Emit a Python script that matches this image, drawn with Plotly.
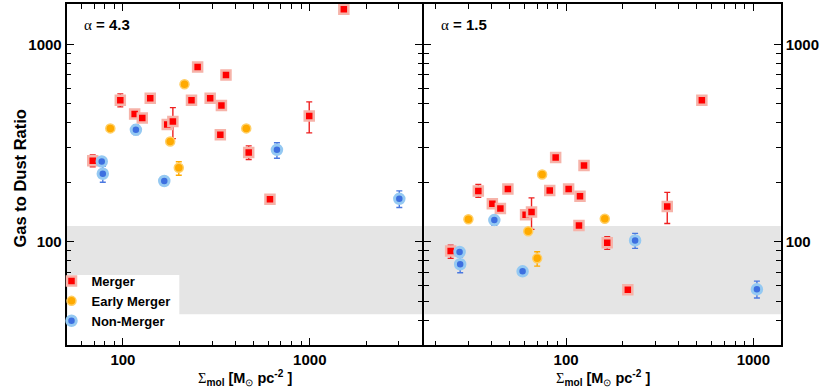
import math
import plotly.graph_objects as go

W, H = 830, 388

# ---------------- data ----------------
categories = ["Merger", "Early Merger", "Non-Merger"]

# alpha = 4.3 panel
merger_x_43 = [68.9, 96.8, 115.5, 126.9, 140, 172.6, 185, 232.7, 251, 293, 336.5, 356, 332, 471, 993, 1521, 612]
merger_y_43 = [257, 521, 444, 424, 533, 392, 406, 521, 768, 533, 490, 699, 348, 283, 434, 1503, 164]
merger_hi_43 = [275, 561, None, 443, None, None, 478, 543, None, 555, None, None, None, 306, 511, None, None]
merger_lo_43 = [240, 482, None, 406, None, None, 333, 500, None, 512, None, None, None, 261, 356, None, None]

early_x_43 = [85.6, 213.5, 179, 199, 457]
early_y_43 = [375, 628, 322, 237, 375]
early_hi_43 = [None, None, None, 254, None]
early_lo_43 = [None, None, None, 217, None]

non_x_43 = [77, 78, 117.3, 166.4, 667, 3013]
non_y_43 = [255, 221, 369, 203, 292, 165]
non_hi_43 = [None, 241, 390, None, 317, 181]
non_lo_43 = [None, 200, 349, None, 265, 149]

# alpha = 1.5 panel
merger_x_15 = [24.2, 34, 40.4, 44.6, 48.9, 60.8, 65.4, 81.8, 88, 103.2, 118.7, 124.7, 117.2, 165.9, 347, 531, 213.7]
merger_y_15 = [89.7, 181, 155.7, 147.5, 185, 137, 141.3, 182, 267, 185, 170, 243.4, 121, 98.8, 151, 521, 57.2]
merger_hi_15 = [96.2, 195, None, 154, None, None, 166.8, 190, None, 193, None, None, None, 106, 177.8, None, None]
merger_lo_15 = [82.4, 168, None, 141.5, None, None, 115.5, 174.5, None, 178.5, None, None, None, 91.5, 123.8, None, None]

early_x_15 = [30.1, 74.5, 62.8, 70.1, 161]
early_y_15 = [130, 219, 113, 82.4, 130.7]
early_hi_15 = [None, None, None, 89.0, None]
early_lo_15 = [None, None, None, 75.3, None]

non_x_15 = [27, 27.2, 41.4, 58.6, 233.7, 1045]
non_y_15 = [88.7, 76.9, 128.8, 70.8, 101.6, 57.4]
non_hi_15 = [None, 84, 134.8, None, 110.3, 63.2]
non_lo_15 = [None, 69.7, 121.1, None, 92.6, 51.9]

band_range = [43, 120]          # grey reference band
panel_labels = ["α = 4.3", "α = 1.5"]
x_tick_labels = [100, 1000]
y_tick_labels = [100, 1000]

# ---------------- styling ----------------
FONT = "Liberation Sans, Arial, Helvetica, sans-serif"
styles = {
    "Merger": dict(symbol="square", size=9, color="#ff0000", line="#f6b3a9", lw=2.5, err="#ee2020"),
    "Early Merger": dict(symbol="circle", size=9, color="#ffaa00", line="#ffcf66", lw=1.5, err="#ffaa00"),
    "Non-Merger": dict(symbol="circle", size=9.5, color="#3d6fe0", line="#95c9f2", lw=3, err="#4a78e0"),
}


def px2fx(px):
    return px / W


def py2fy(py):
    return 1 - py / H


def deltas(y, hi, lo):
    plus = [(h - v) if h is not None else 0 for v, h in zip(y, hi)]
    minus = [(v - l) if l is not None else 0 for v, l in zip(y, lo)]
    return plus, minus


fig = go.Figure()

panels = [
    ("x", "y", [(merger_x_43, merger_y_43, merger_hi_43, merger_lo_43),
                (early_x_43, early_y_43, early_hi_43, early_lo_43),
                (non_x_43, non_y_43, non_hi_43, non_lo_43)], True),
    ("x2", "y2", [(merger_x_15, merger_y_15, merger_hi_15, merger_lo_15),
                  (early_x_15, early_y_15, early_hi_15, early_lo_15),
                  (non_x_15, non_y_15, non_hi_15, non_lo_15)], False),
]

for xa, ya, sets, show in panels:
    for cat, (xs, ys, hi, lo) in zip(categories, sets):
        st = styles[cat]
        plus, minus = deltas(ys, hi, lo)
        fig.add_trace(go.Scatter(
            x=xs, y=ys, mode="markers", name=cat, xaxis=xa, yaxis=ya,
            showlegend=show, legendgroup=cat,
            marker=dict(symbol=st["symbol"], size=st["size"], color=st["color"],
                        line=dict(color=st["line"], width=st["lw"])),
            error_y=dict(type="data", symmetric=False, array=plus, arrayminus=minus,
                         color=st["err"], thickness=1.4, width=3),
        ))

x_minor_43 = [50, 60, 70, 80, 90, 200, 300, 400, 500, 600, 700, 800, 900, 2000, 3000, 4000]
x_minor_15 = [20, 30, 40, 50, 60, 70, 80, 90, 200, 300, 400, 500, 600, 700, 800, 900]
y_minor = [30, 40, 50, 60, 70, 80, 90, 200, 300, 400, 500, 600, 700, 800, 900]

tickfont = dict(family=FONT, size=15, color="black", weight="bold")

common_axis = dict(
    type="log", showline=True, linecolor="black", linewidth=2, mirror="allticks",
    ticks="inside", ticklen=7, tickwidth=1.3, tickcolor="black", showgrid=False,
    zeroline=False, tickfont=tickfont,
)


def minor(vals):
    return dict(tickvals=vals, ticks="inside", ticklen=4.5, tickwidth=1.2,
                tickcolor="black", showgrid=False)


xd1 = [px2fx(66.7), px2fx(422.3)]
xd2 = [px2fx(424.3), px2fx(780.7)]
yd = [py2fy(345), py2fy(4)]

fig.update_layout(
    width=W, height=H,
    margin=dict(l=0, r=0, t=0, b=0),
    paper_bgcolor="white", plot_bgcolor="white",
    font=dict(family=FONT, color="black"),
    xaxis=dict(common_axis, domain=xd1, anchor="y",
               range=[math.log10(50), math.log10(4000)],
               tickvals=x_tick_labels, ticktext=[str(v) for v in x_tick_labels],
               minor=minor(x_minor_43)),
    xaxis2=dict(common_axis, domain=xd2, anchor="y2",
                range=[math.log10(17.5), math.log10(1400)],
                tickvals=x_tick_labels, ticktext=[str(v) for v in x_tick_labels],
                minor=minor(x_minor_15)),
    yaxis=dict(common_axis, domain=yd, anchor="x",
               range=[math.log10(30), math.log10(1600)],
               tickvals=y_tick_labels, ticktext=[str(v) for v in y_tick_labels],
               minor=minor(y_minor)),
    yaxis2=dict(common_axis, domain=yd, anchor="x2", side="right",
                range=[math.log10(30), math.log10(1600)],
                tickvals=y_tick_labels, ticktext=[str(v) for v in y_tick_labels],
                minor=minor(y_minor)),
    legend=dict(x=px2fx(51.5), y=py2fy(266), xanchor="left", yanchor="top",
                bgcolor="rgba(0,0,0,0)", borderwidth=0,
                font=dict(family=FONT, size=13, color="black", weight="bold"),
                tracegroupgap=0),
    showlegend=True,
)

# grey bands
for xr, yr in [("x domain", "y"), ("x2 domain", "y2")]:
    fig.add_shape(type="rect", xref=xr, yref=yr, x0=0, x1=1, y0=band_range[0], y1=band_range[1],
                  fillcolor="#e5e5e5", line=dict(width=0), layer="below")

# white legend box
fig.add_shape(type="rect", xref="paper", yref="paper",
              x0=px2fx(67.5), x1=px2fx(179.3), y0=py2fy(326), y1=py2fy(275),
              fillcolor="white", line=dict(width=0), layer="below")

# panel labels
for lab, px in zip(panel_labels, [81.7, 439.3]):
    a, rest = lab.split(" ", 1)
    fig.add_annotation(xref="paper", yref="paper", x=px2fx(px), y=py2fy(24.5),
                       xanchor="left", yanchor="middle", showarrow=False,
                       text=f"<span style='font-family:Liberation Serif'>{a}</span><b> {rest}</b>",
                       font=dict(family=FONT, size=15, color="black"))

# axis titles
fig.add_annotation(xref="paper", yref="paper", x=px2fx(19.5), y=py2fy(179),
                   xanchor="center", yanchor="middle", textangle=-90, showarrow=False,
                   text="<b>Gas to Dust Ratio</b>",
                   font=dict(family=FONT, size=16.5, color="black"))

xtitle = ("<span style='font-family:Liberation Serif'>Σ</span><sub><b>mol</b></sub>"
          "<b> [M</b><sub>⊙</sub><b> pc</b><sup><b>-2</b></sup><b> ]</b>")
for cx in [(xd1[0] + xd1[1]) / 2, (xd2[0] + xd2[1]) / 2]:
    fig.add_annotation(xref="paper", yref="paper", x=cx, y=py2fy(377.5),
                       xanchor="center", yanchor="middle", showarrow=False,
                       text=xtitle, font=dict(family=FONT, size=14.5, color="black"))

fig.write_html("out.html", config={"displayModeBar": False},
               post_script="document.body.style.margin='0';document.body.style.overflow='hidden';")
